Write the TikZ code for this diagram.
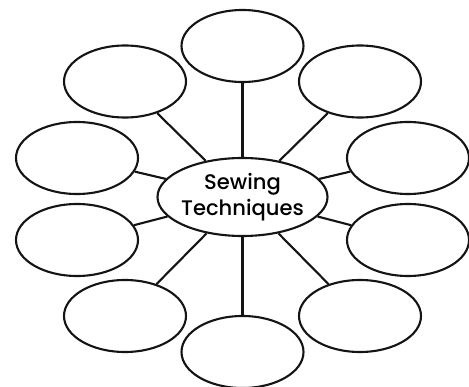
\documentclass[tikz,border=0pt]{standalone}
\usepackage{fontspec}
\setmainfont{Poppins}
\newfontfamily\hubfont{Poppins Medium}
\usepackage{tikz}
\usetikzlibrary{shapes.geometric}
\definecolor{inkBlack}{RGB}{20,20,20}
\tikzset{
  blankbubble/.style={
    ellipse, draw=inkBlack, line width=1.2pt, fill=white,
    minimum width=2.44cm, minimum height=1.44cm, inner sep=0pt
  },
  hubbubble/.style={
    ellipse, draw=inkBlack, line width=1.2pt, fill=white,
    minimum width=3.4cm, minimum height=1.56cm, inner xsep=-1pt, inner ysep=0pt,
    align=center, font=\hubfont\fontsize{12}{14.5}\selectfont
  },
  spokeLine/.style={line width=1.2pt, color=inkBlack}
}
\begin{document}
\begin{tikzpicture}
    \clip (0,0) rectangle (9.38,-7.74);

    \node[hubbubble] (hub) at (4.85,-3.94) {Sewing\\Techniques};

    \node[blankbubble] (top)   at (4.85,-0.92) {};
    \node[blankbubble] (topL)  at (2.50,-1.63) {};
    \node[blankbubble] (topR)  at (7.20,-1.63) {};
    \node[blankbubble] (midUL) at (1.54,-3.16) {};
    \node[blankbubble] (midUR) at (8.16,-3.16) {};
    \node[blankbubble] (midLL) at (1.54,-4.80) {};
    \node[blankbubble] (midLR) at (8.16,-4.80) {};
    \node[blankbubble] (botL)  at (2.50,-6.32) {};
    \node[blankbubble] (botR)  at (7.20,-6.32) {};
    \node[blankbubble] (bot)   at (4.85,-7.04) {};

    \draw[spokeLine] (hub)--(top);
    \draw[spokeLine] (hub)--(topL);
    \draw[spokeLine] (hub)--(topR);
    \draw[spokeLine] (hub)--(midUL);
    \draw[spokeLine] (hub)--(midUR);
    \draw[spokeLine] (hub)--(midLL);
    \draw[spokeLine] (hub)--(midLR);
    \draw[spokeLine] (hub)--(botL);
    \draw[spokeLine] (hub)--(botR);
    \draw[spokeLine] (hub)--(bot);
  \end{tikzpicture}
\end{document}
